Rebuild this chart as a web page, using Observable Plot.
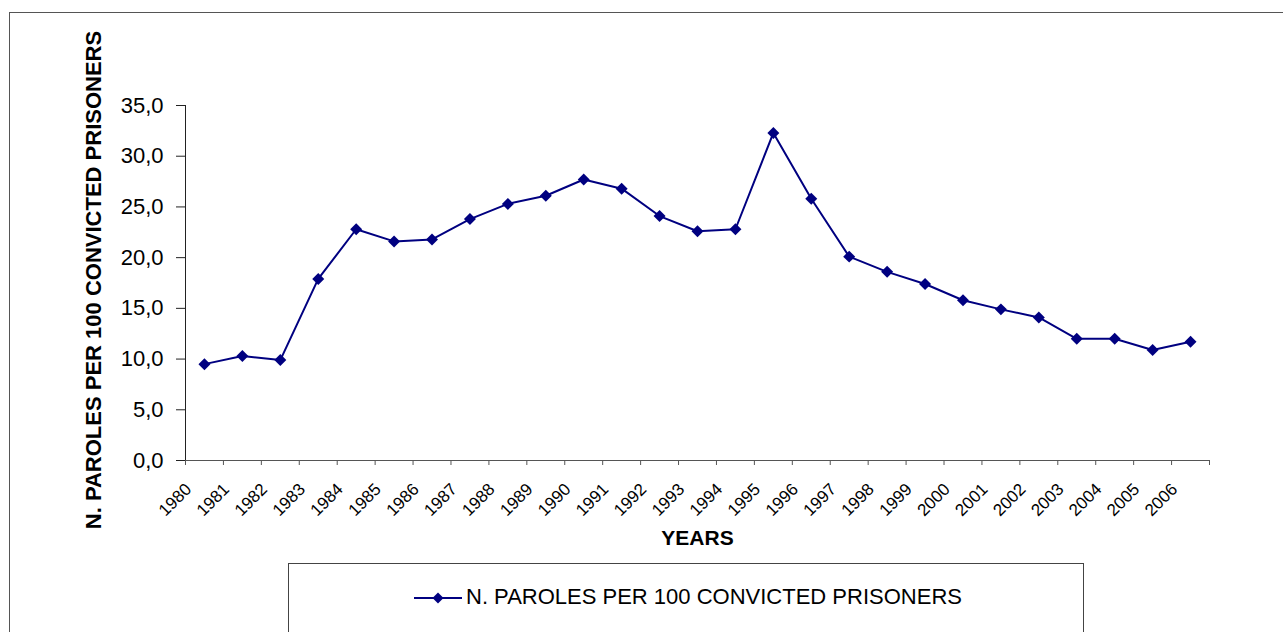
<!DOCTYPE html>
<html>
<head>
<meta charset="utf-8">
<script src="https://cdn.jsdelivr.net/npm/d3@7"></script>
<script src="https://cdn.jsdelivr.net/npm/@observablehq/plot@0.6"></script>
<style>
  html, body { margin: 0; padding: 0; background: #fff; }
  body { font-family: "Liberation Sans", Arial, sans-serif; }
  #wrap { position: relative; width: 1283px; height: 632px; overflow: hidden; }
  #frame { position: absolute; left: 9px; top: 12px; width: 1290px; height: 700px; border: 1px solid #555; box-sizing: border-box; }
  #chart { position: absolute; left: 0; top: 0; }
  #legend { position: absolute; left: 288px; top: 563px; width: 796px; height: 90px; border: 1px solid #444; box-sizing: border-box; background: #fff; }
  #legend svg { position: absolute; left: 125px; top: 27px; }
  #legend span { position: absolute; left: 177px; top: 20px; font-size: 22px; color: #000; white-space: nowrap; font-family: "Liberation Sans", Arial, sans-serif; }
</style>
</head>
<body>
<div id="wrap">
  <div id="frame"></div>
  <div id="chart"></div>
  <div id="legend"></div>
</div>
<script>
const years = [1980,1981,1982,1983,1984,1985,1986,1987,1988,1989,1990,1991,1992,1993,1994,1995,1996,1997,1998,1999,2000,2001,2002,2003,2004,2005,2006];
const paroles = [9.5,10.3,9.9,17.9,22.8,21.6,21.8,23.8,25.3,26.1,27.7,26.8,24.1,22.6,22.8,32.3,25.8,20.1,18.6,17.4,15.8,14.9,14.1,12.0,12.0,10.9,11.7];
const yTicks = [0,5,10,15,20,25,30,35];
const seriesName = "N. PAROLES PER 100 CONVICTED PRISONERS";
const yTitle = "N. PAROLES PER 100 CONVICTED PRISONERS";
const xTitle = "YEARS";
const lineColor = "#000080";

const data = years.map((y, i) => ({year: y, value: paroles[i]}));
const boundaries = d3.range(years[0], years[years.length - 1] + 2);

const chart = Plot.plot({
  width: 1283,
  height: 632,
  marginLeft: 185,
  marginRight: 74,
  marginTop: 105,
  marginBottom: 172,
  style: {fontFamily: "'Liberation Sans', Arial, sans-serif", background: "transparent", color: "#000"},
  x: {type: "linear", domain: [years[0], years[years.length - 1] + 1], axis: null},
  y: {domain: [0, 35], axis: null},
  marks: [
    // y axis ticks & labels
    Plot.axisY({ticks: yTicks, tickSize: 9, tickPadding: 13, fontSize: 22, stroke: "#222",
      tickFormat: d => d.toFixed(1).replace(".", ","), label: null}),
    Plot.ruleX([years[0]], {stroke: "#222", strokeWidth: 1}),
    // x axis
    Plot.axisX({ticks: boundaries, tickSize: 5, stroke: "#555", tickFormat: () => "", label: null}),
    Plot.ruleY([0], {stroke: "#555", strokeWidth: 1}),
    Plot.text(years, {x: d => d, y: 0, text: d => String(d), rotate: -45, textAnchor: "end",
      lineAnchor: "middle", dx: 3, dy: 26, fontSize: 17}),
    // titles
    Plot.text([yTitle], {frameAnchor: "left", textAnchor: "middle", rotate: -90, dx: -92, dy: -3, fontSize: 22, fontWeight: "bold"}),
    Plot.text([xTitle], {frameAnchor: "bottom", textAnchor: "middle", dy: 84, fontSize: 21, fontWeight: "bold"}),
    // data
    Plot.line(data, {x: d => d.year + 0.5, y: "value", stroke: lineColor, strokeWidth: 2}),
    Plot.dot(data, {x: d => d.year + 0.5, y: "value", symbol: "diamond2", r: 5.4, fill: lineColor, stroke: "none"})
  ]
});
document.getElementById("chart").appendChild(chart);

const legend = document.getElementById("legend");
legend.innerHTML = `<svg width="50" height="14" viewBox="0 0 50 14">
  <line x1="0" y1="7" x2="48" y2="7" stroke="${lineColor}" stroke-width="2"></line>
  <path d="M24,1.5L29.5,7L24,12.5L18.5,7Z" fill="${lineColor}"></path>
</svg><span></span>`;
legend.querySelector("span").textContent = seriesName;
</script>
</body>
</html>
